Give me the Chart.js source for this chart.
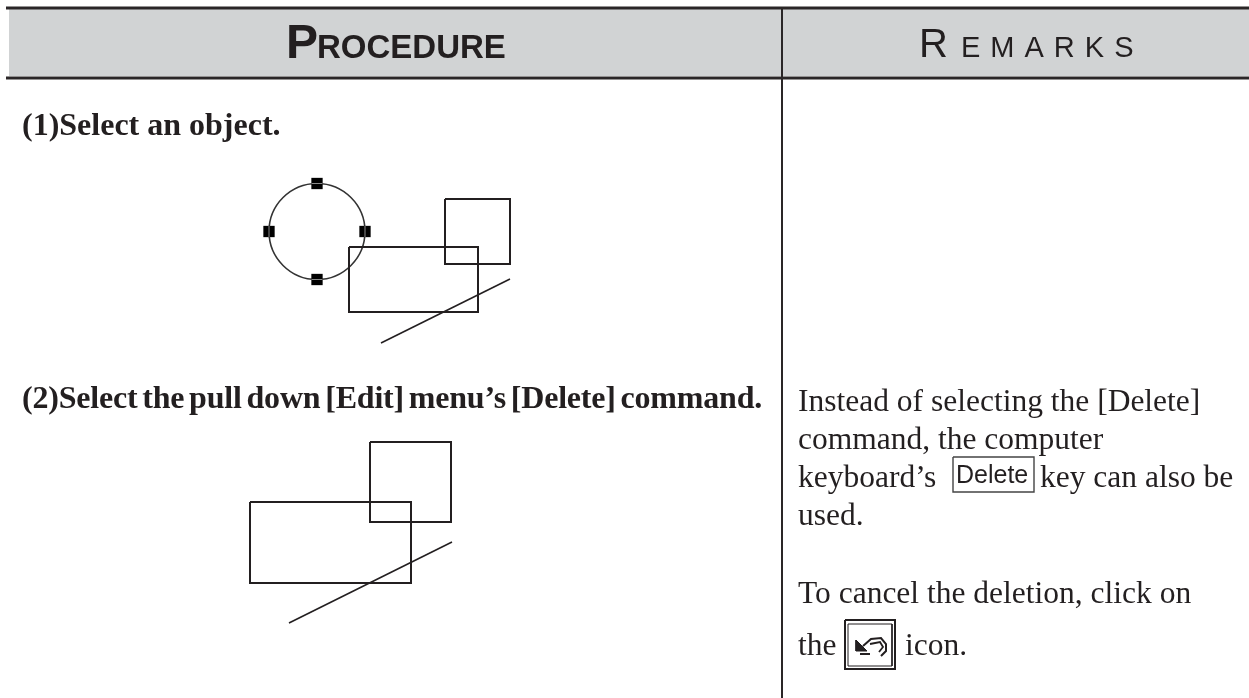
<!DOCTYPE html>
<html>
<head>
<meta charset="utf-8">
<title>Procedure / Remarks</title>
<script src="https://cdn.jsdelivr.net/npm/chart.js@4/dist/chart.umd.min.js"></script>
<style>
  html, body { margin: 0; padding: 0; background: #fff; }
  canvas { display: block; }
</style>
</head>
<body>
<canvas id="page" width="1249" height="698"></canvas>
<script>
// shapes, in page units (x to the right, y downwards)
const bandX = [9, 1249], bandY = [76, 76];
const topRuleX = [6, 1249], topRuleY = [8, 8];
const headRuleX = [6, 1249], headRuleY = [78, 78];
const columnRuleX = [782, 782], columnRuleY = [8, 698];

const circleX = [317], circleY = [231.5];
const handleX = [317, 317, 269, 365], handleY = [183.5, 279.5, 231.5, 231.5];
const stripeTurn = [0, 0, 90, 90];

const square1X = [445, 510, 510, 445, 445], square1Y = [199, 199, 264, 264, 199];
const rect1X = [349, 478, 478, 349, 349], rect1Y = [247, 247, 312, 312, 247];
const line1X = [381, 510], line1Y = [343, 279];

const square2X = [370, 451, 451, 370, 370], square2Y = [442, 442, 522, 522, 442];
const rect2X = [250, 411, 411, 250, 250], rect2Y = [502, 502, 583, 583, 502];
const line2X = [289, 452], line2Y = [623, 542];

const keyBoxX = [953, 1034, 1034, 953, 953], keyBoxY = [457, 457, 492, 492, 457];

const iconOuterX = [845, 895, 895, 845, 845], iconOuterY = [620, 620, 669, 669, 620];
const iconInnerX = [848, 892, 892, 848, 848], iconInnerY = [624, 624, 666, 666, 624];
const arrowX = [856, 856, 867, 856], arrowY = [640, 651, 651, 640];
const arrowFootX = [860, 870], arrowFootY = [654, 654];
const curveOuterX = [863, 871, 881, 886, 886, 881], curveOuterY = [646, 639, 638, 644, 651, 656];
const curveInnerX = [870, 880, 883, 879], curveInnerY = [644, 642, 647, 652];

// texts
const headLeft = ['P', 'ROCEDURE'];
const headRight = ['R', 'EMARKS'];
const stepTexts = ['(1)Select an object.', '(2)Select the pull down [Edit] menu\u2019s [Delete] command.'];
const remarkTexts = ['Instead of selecting the [Delete]', 'command, the computer', 'keyboard\u2019s', 'key can also be', 'used.', 'To cancel the deletion, click on', 'the', 'icon.'];
const keyText = 'Delete';

const ink = '#231f20';

function pts(xs, ys) {
  return xs.map(function (x, i) {
    return { x: x, y: ys[i] };
  });
}

function path(xs, ys, width, color, extra) {
  return Object.assign({
    type: 'scatter',
    data: pts(xs, ys),
    showLine: true,
    borderColor: color || ink,
    borderWidth: width,
    pointRadius: 0,
    fill: false,
    order: 1
  }, extra || {});
}

const textPlugin = {
  id: 'pageText',
  afterDatasetsDraw: function (chart) {
    const ctx = chart.ctx;
    const sx = chart.scales.x, sy = chart.scales.y;
    function put(str, x, y, font, spacing, wordGap) {
      ctx.font = font;
      ctx.letterSpacing = spacing || '0px';
      ctx.wordSpacing = wordGap || '0px';
      ctx.fillText(str, sx.getPixelForValue(x), sy.getPixelForValue(y));
    }
    ctx.save();
    ctx.fillStyle = ink;
    ctx.textBaseline = 'alphabetic';
    put(headLeft[0], 286, 58, 'bold 48px "Liberation Sans"');
    put(headLeft[1], 317, 58, 'bold 33px "Liberation Sans"');
    put(headRight[0], 919, 57, '40px "Liberation Sans"');
    put(headRight[1], 961, 57, '29px "Liberation Sans"', '10px');

    const bold = 'bold 32px "Liberation Serif"';
    put(stepTexts[0], 22, 135, bold);
    put(stepTexts[1], 22, 408, bold, '-0.2px', '-3px');

    const body = '31.5px "Liberation Serif"';
    put(remarkTexts[0], 798, 411, body);
    put(remarkTexts[1], 798, 449, body);
    put(remarkTexts[2], 798, 487, body);
    put(remarkTexts[3], 1040, 487, body);
    put(remarkTexts[4], 798, 525, body);
    put(remarkTexts[5], 798, 603, body);
    put(remarkTexts[6], 798, 655, body);
    put(remarkTexts[7], 905, 655, body);
    put(keyText, 956, 483, '25px "Liberation Sans"');
    ctx.restore();
  }
};

new Chart(document.getElementById('page'), {
  data: {
    datasets: [
      path(bandX, bandY, 0, '#d1d3d4', { fill: { value: 9 }, backgroundColor: '#d1d3d4', order: 9 }),
      path(topRuleX, topRuleY, 3, '#2a2627'),
      path(headRuleX, headRuleY, 3, '#2a2627'),
      path(columnRuleX, columnRuleY, 2, '#2a2627'),

      {
        type: 'scatter',
        data: pts(circleX, circleY),
        pointStyle: 'circle',
        pointRadius: 48,
        pointBorderWidth: 1.6,
        pointBorderColor: '#333',
        pointBackgroundColor: 'rgba(0,0,0,0)',
        order: 3
      },
      {
        type: 'scatter',
        data: pts(handleX, handleY),
        pointStyle: 'rect',
        pointRadius: 8,
        pointBorderWidth: 0,
        pointBackgroundColor: '#000',
        order: 2
      },
      {
        type: 'scatter',
        data: pts(handleX, handleY),
        pointStyle: 'line',
        pointRadius: 5.5,
        pointRotation: stripeTurn,
        pointBorderWidth: 1,
        pointBorderColor: '#8a8a8a',
        order: 1
      },
      path(square1X, square1Y, 2),
      path(rect1X, rect1Y, 2),
      path(line1X, line1Y, 1.6),
      path(square2X, square2Y, 2),
      path(rect2X, rect2Y, 2),
      path(line2X, line2Y, 1.6),

      path(keyBoxX, keyBoxY, 1.4, '#444'),
      path(iconOuterX, iconOuterY, 2),
      path(iconInnerX, iconInnerY, 1),
      path(arrowX, arrowY, 1, ink, { fill: 'shape', backgroundColor: ink }),
      path(arrowFootX, arrowFootY, 2),
      path(curveOuterX, curveOuterY, 2),
      path(curveInnerX, curveInnerY, 1.8)
    ]
  },
  options: {
    responsive: false,
    animation: false,
    devicePixelRatio: 1,
    layout: { padding: 0, autoPadding: false },
    plugins: {
      legend: { display: false },
      tooltip: { enabled: false }
    },
    scales: {
      x: { type: 'linear', min: 0, max: 1249, display: false },
      y: { type: 'linear', min: 0, max: 698, reverse: true, display: false }
    }
  },
  plugins: [textPlugin]
});
</script>
</body>
</html>
